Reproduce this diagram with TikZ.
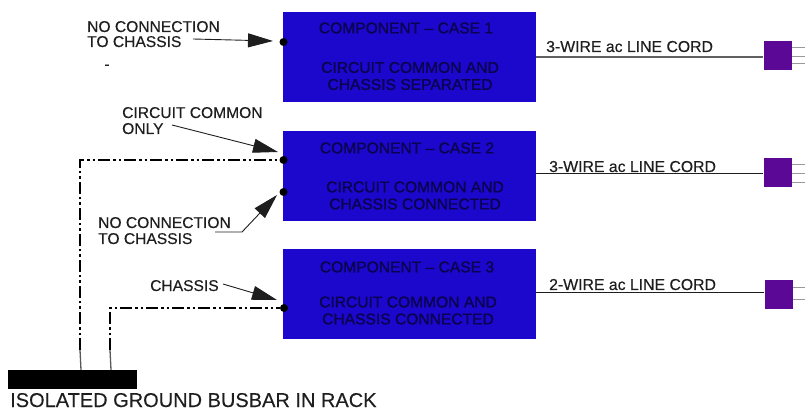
\documentclass[tikz,border=0pt]{standalone}
\usepackage{fontspec}
\setmainfont[FakeBold=.25]{Liberation Sans}
\newfontfamily\heavyfont[FakeBold=1.4]{Liberation Sans}
\usetikzlibrary{arrows.meta}
\definecolor{compblue}{RGB}{28,8,205}
\definecolor{plugviolet}{RGB}{92,8,150}
\definecolor{inkdark}{RGB}{30,30,30}
\tikzset{
  component/.style={fill=compblue,draw=none,minimum width=253pt,minimum height=90pt,inner sep=0pt},
  plug/.style={fill=plugviolet,draw=none,minimum width=28pt,minimum height=29pt,inner sep=0pt},
  complabel/.style={text=black!62!compblue,font=\heavyfont\fontsize{15.6}{17}\selectfont,align=center,inner sep=0pt},
  caption/.style={text=inkdark,font=\fontsize{15.6}{15.5}\selectfont,align=left,inner sep=0pt},
  cordlabel/.style={text=inkdark,font=\fontsize{15.8}{17}\selectfont,inner sep=0pt},
  terminal/.style={fill=black,circle,inner sep=0pt,minimum size=8pt},
  pointer/.style={inkdark,line width=.9pt,-{Triangle[length=25pt,width=14pt]}},
  groundrun/.style={black,line width=1.3pt,dash pattern=on 12pt off 3pt on 2.5pt off 3pt on 2.5pt off 3pt},
  stub/.style={gray!70!black,line width=1.3pt},
  prong/.style={gray!80,line width=1pt}
}
\begin{document}
\begin{tikzpicture}[x=1pt,y=-1pt]
  \useasboundingbox (0,0) rectangle (805,411);

  \node[component] (comp1) at (409.5,57) {};
  \node[component] (comp2) at (409.5,176) {};
  \node[component] (comp3) at (409.5,294) {};

  \node[complabel] (head1) at (406,28) {COMPONENT – CASE 1};
  \node[complabel] (body1) at (410,76) {CIRCUIT COMMON AND\\CHASSIS SEPARATED};
  \node[complabel] (head2) at (407,148) {COMPONENT – CASE 2};
  \node[complabel] (body2) at (415,195.5) {CIRCUIT COMMON AND\\CHASSIS CONNECTED};
  \node[complabel] (head3) at (407,267) {COMPONENT – CASE 3};
  \node[complabel] (body3) at (408,310.5) {CIRCUIT COMMON AND\\CHASSIS CONNECTED};

  \node[terminal] (term1) at (283.5,42) {};
  \node[terminal] (term2) at (283.5,160) {};
  \node[terminal] (term2b) at (283.5,192) {};
  \node[terminal] (term3) at (284,308) {};

  \node[plug] (plug1) at (777.5,56) {};
  \node[plug] (plug2) at (777.5,173) {};
  \node[plug] (plug3) at (778.5,295) {};

  \draw[gray!75!black,line width=1.2pt] (comp1.east |- 0,57) -- (plug1.west |- 0,57);
  \draw[inkdark,line width=1pt] (comp2.east |- 0,174) -- (plug2.west |- 0,174);
  \draw[inkdark,line width=1pt] (comp3.east |- 0,293) -- (plug3.west |- 0,293);

  \draw[prong] (plug1.east |- 0,48) -- (805,48);
  \draw[prong] (plug1.east |- 0,57) -- (805,57);
  \draw[prong] (plug1.east |- 0,64) -- (805,64);
  \draw[prong] (plug2.east |- 0,165) -- (805,165);
  \draw[prong] (plug2.east |- 0,174) -- (805,174);
  \draw[prong] (plug2.east |- 0,183) -- (805,183);
  \draw[prong] (plug3.east |- 0,288) -- (805,288);
  \draw[prong] (plug3.east |- 0,300) -- (805,300);

  \node[cordlabel,anchor=base west] (cord1) at (546,52) {3-WIRE ac LINE CORD};
  \node[cordlabel,anchor=base west] (cord2) at (549,172) {3-WIRE ac LINE CORD};
  \node[cordlabel,anchor=base west] (cord3) at (549,290) {2-WIRE ac LINE CORD};

  \node[caption,anchor=base west] (nocon1) at (87,32) {NO CONNECTION};
  \node[caption,anchor=base west] (nocon1b) at (87,47) {TO CHASSIS};
  \node[caption,anchor=base west] (common) at (122,118) {CIRCUIT COMMON};
  \node[caption,anchor=base west] (commonb) at (122,134) {ONLY};
  \node[caption,anchor=base west] (nocon2) at (98,228) {NO CONNECTION};
  \node[caption,anchor=base west] (nocon2b) at (98,244) {TO CHASSIS};
  \node[caption,anchor=base west] (chassis) at (150,291) {CHASSIS};
  \node[caption] (dash) at (107,67) {-};

  \node[fill=black,minimum width=129pt,minimum height=19pt,inner sep=0pt] (busbar) at (72.5,379.5) {};
  \node[text=inkdark,font=\fontsize{20}{22}\selectfont,anchor=base west,inner sep=0pt] (buslabel) at (10,407) {ISOLATED GROUND BUSBAR IN RACK};

  \coordinate (bus2) at (81,370);
  \coordinate (bus3) at (111,370);
  \coordinate (run2) at (80,350);
  \coordinate (run3) at (110,350);
  \draw[stub] (bus2) -- (run2);
  \draw[stub] (bus3) -- (run3);
  \draw[groundrun] (run2) -- (80,160) -- (term2);
  \draw[groundrun] (run3) -- (110,308) -- (term3);

  \coordinate (tip1) at (273,41);
  \coordinate (tip2) at (278,152);
  \coordinate (tip2b) at (277,195);
  \coordinate (tip3) at (277,300);
  \draw[pointer] (193,39) -- (tip1);
  \draw[pointer] (172,125) -- (tip2);
  \draw[pointer] (215,232) -- (242,232) -- (tip2b);
  \draw[pointer] (223,284) -- (tip3);
\end{tikzpicture}
\end{document}
